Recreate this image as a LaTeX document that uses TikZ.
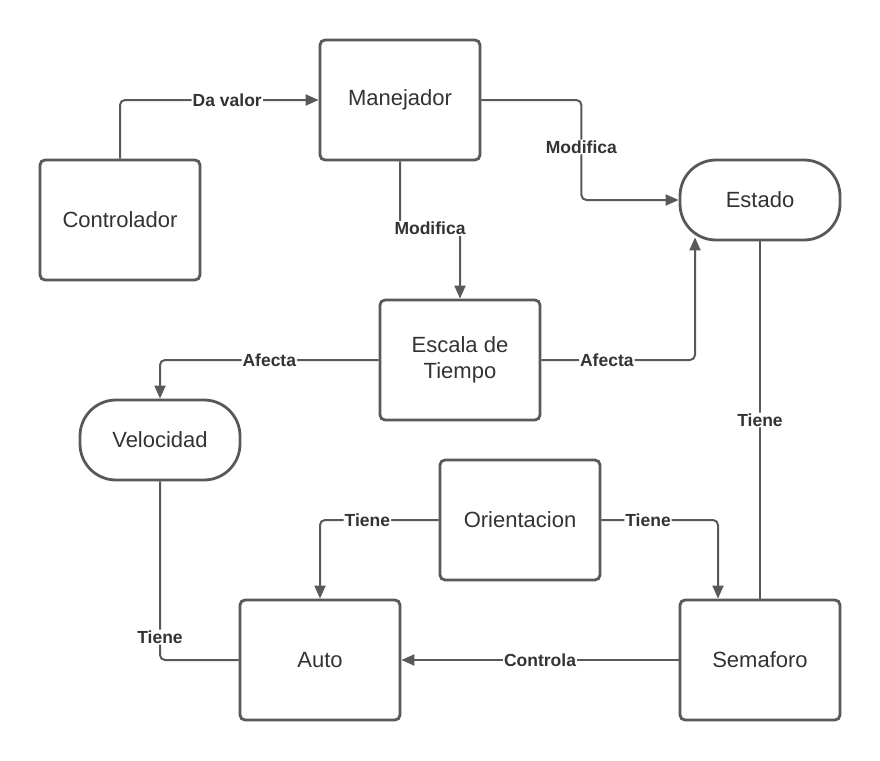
\documentclass[tikz,border=0pt]{standalone}
\usepackage{fontspec}
\setmainfont{Liberation Sans}
\usetikzlibrary{arrows.meta}
\definecolor{lc}{HTML}{595959}
\definecolor{tc}{HTML}{333333}
\begin{document}
\begin{tikzpicture}[x=1pt,y=-1pt,
 box/.style={draw=lc, line width=2.8pt, rounded corners=5pt, minimum width=160pt, minimum height=120pt, inner sep=0pt, align=center, font=\fontsize{22}{26}\selectfont, text=tc},
 pill/.style={box, minimum height=80pt, rounded corners=36pt},
 conn/.style={draw=lc, line width=2pt, rounded corners=5pt},
 arr/.style={conn, -{Triangle[length=13pt,width=11pt]}},
 lab/.style={fill=white, inner sep=1pt, font=\bfseries\fontsize{17.5}{20}\selectfont, text=tc}]
\useasboundingbox[fill=white] (0,0) rectangle (880,760);
\node[box] (man) at (400,100) {Manejador};
\node[box] (ctrl) at (120,220) {Controlador};
\node[pill] (est) at (760,200) {Estado};
\node[box] (esc) at (460,360) {Escala de\\Tiempo};
\node[pill] (vel) at (160,440) {Velocidad};
\node[box] (ori) at (520,520) {Orientacion};
\node[box] (auto) at (320,660) {Auto};
\node[box] (sem) at (760,660) {Semaforo};
\draw[arr] (ctrl.north) |- node[lab,pos=0.77]{Da valor} (man.west);
\draw[arr] (man.east) -- ++(100,0) |- node[lab,pos=0.235]{Modifica} (est.west);
\draw[arr] (man.south) -- ++(0,67) -| node[lab,pos=0.25]{Modifica} (esc.north);
\draw[arr] (esc.west) -| node[lab,pos=0.25]{Afecta} (vel.north);
\draw[arr] (esc.east) -| node[lab,pos=0.213]{Afecta} ([xshift=-65pt,yshift=4pt]est.south);
\draw[conn] (est.south) -- node[lab]{Tiene} (sem.north);
\draw[conn] (vel.south) |- node[lab,pos=0.436]{Tiene} (auto.west);
\draw[arr] (ori.west) -| node[lab,pos=0.3]{Tiene} (auto.north);
\draw[arr] (ori.east) -| node[lab,pos=0.2]{Tiene} ([xshift=-42pt]sem.north);
\draw[arr] (sem.west) -- node[lab]{Controla} (auto.east);
\end{tikzpicture}
\end{document}
